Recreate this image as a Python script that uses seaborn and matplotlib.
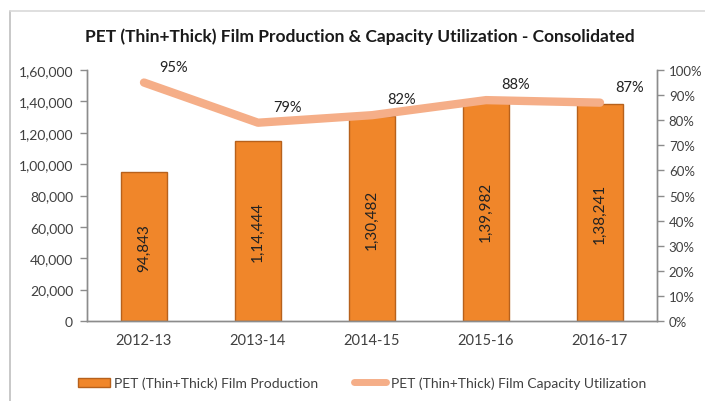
import matplotlib
matplotlib.use("Agg")
import matplotlib.pyplot as plt
import seaborn as sns
import pandas as pd
from matplotlib.ticker import FuncFormatter, PercentFormatter
from matplotlib.lines import Line2D
from matplotlib.patches import Patch

years = ["2012-13", "2013-14", "2014-15", "2015-16", "2016-17"]
production = [94843, 114444, 130482, 139982, 138241]
utilization = [95, 79, 82, 88, 87]

bar_name = "PET (Thin+Thick) Film Production"
line_name = "PET (Thin+Thick) Film Capacity Utilization"
title = "PET (Thin+Thick) Film Production & Capacity Utilization - Consolidated"

df = pd.DataFrame({"year": years, "production": production, "util": utilization})

sns.set_theme(style="white")
plt.rcParams["font.family"] = ["Lato", "DejaVu Sans"]

TXT = "#404040"
AX = "#8c8c8c"
BAR = "#F0862A"
BAR_EDGE = "#B7611C"
LINE = "#F5AE88"


def indian(v, pos=None):
    v = int(round(v))
    s = str(v)
    if len(s) <= 3:
        return s
    last3 = s[-3:]
    rest = s[:-3]
    parts = []
    while len(rest) > 2:
        parts.insert(0, rest[-2:])
        rest = rest[:-2]
    if rest:
        parts.insert(0, rest)
    return ",".join(parts + [last3])


fig = plt.figure(figsize=(7.05, 4.02), dpi=100)
ax = fig.add_axes([87 / 705, 1 - 322 / 402, 570 / 705, 251 / 402])

sns.barplot(data=df, x="year", y="production", ax=ax, color=BAR, width=0.4,
            edgecolor=BAR_EDGE, linewidth=1.0, saturation=1)
ax.set_ylim(0, 160000)
ax.set_xlim(-0.5, 4.5)
ax.set_yticks(range(0, 160001, 20000))
ax.yaxis.set_major_formatter(FuncFormatter(indian))
ax.set_xlabel("")
ax.set_ylabel("")

for i, v in enumerate(production):
    ax.text(i, v / 2, indian(v), rotation=90, ha="center", va="center",
            fontsize=11, color="#222222")

ax2 = ax.twinx()
sns.lineplot(data=df, x="year", y="util", ax=ax2, color=LINE, linewidth=6,
             solid_capstyle="round", sort=False)
ax2.set_ylim(0, 100)
ax2.set_yticks(range(0, 101, 10))
ax2.yaxis.set_major_formatter(PercentFormatter(decimals=0))
ax2.set_xlabel("")
ax2.set_ylabel("")
ax2.set_xlim(-0.5, 4.5)

for i, u in enumerate(utilization):
    ax2.annotate(f"{u}%", (i, u), xytext=(30, 16), textcoords="offset pixels",
                 ha="center", va="center", fontsize=10.5, color="#222222")

for a in (ax, ax2):
    a.spines["top"].set_visible(False)
    for side in ("left", "right", "bottom"):
        a.spines[side].set_color(AX)
        a.spines[side].set_linewidth(1.0)
    a.tick_params(colors=AX, labelcolor=TXT, labelsize=10, length=5, width=1,
                  direction="out")

ax.set_xticks(range(5))
ax.set_xticklabels(years)
ax.tick_params(axis="x", length=0, pad=9, labelsize=10.5)
ax.set_xticks([i - 0.5 for i in range(6)], minor=True)
ax.tick_params(axis="x", which="minor", length=5, width=1, color=AX, direction="out")
ax.tick_params(axis="y", pad=5)
ax2.tick_params(axis="y", pad=3.5, labelsize=9.5)
ax2.tick_params(axis="x", length=0)

fig.text(360 / 705, 1 - 37 / 402, title, ha="center", va="center",
         fontsize=12.5, fontweight="bold", color="#1a1a1a")

handles = [Patch(facecolor=BAR, edgecolor=BAR_EDGE),
           Line2D([0], [0], color=LINE, linewidth=5)]
fig.legend(handles, [bar_name, line_name], loc="center",
           bbox_to_anchor=(362 / 705, 1 - 384 / 402), ncol=2, frameon=False,
           fontsize=10, labelcolor=TXT, columnspacing=2.6, handlelength=2.3,
           handletextpad=0.3)

# chart frame
fig.add_artist(Line2D([10 / 705, 10 / 705], [0, 1 - 12 / 402], color="#bfbfbf",
                      linewidth=1.2, transform=fig.transFigure))
fig.add_artist(Line2D([10 / 705, 1], [1 - 12 / 402, 1 - 12 / 402], color="#d9d9d9",
                      linewidth=1.2, transform=fig.transFigure))

fig.savefig("out.png", dpi=100)
